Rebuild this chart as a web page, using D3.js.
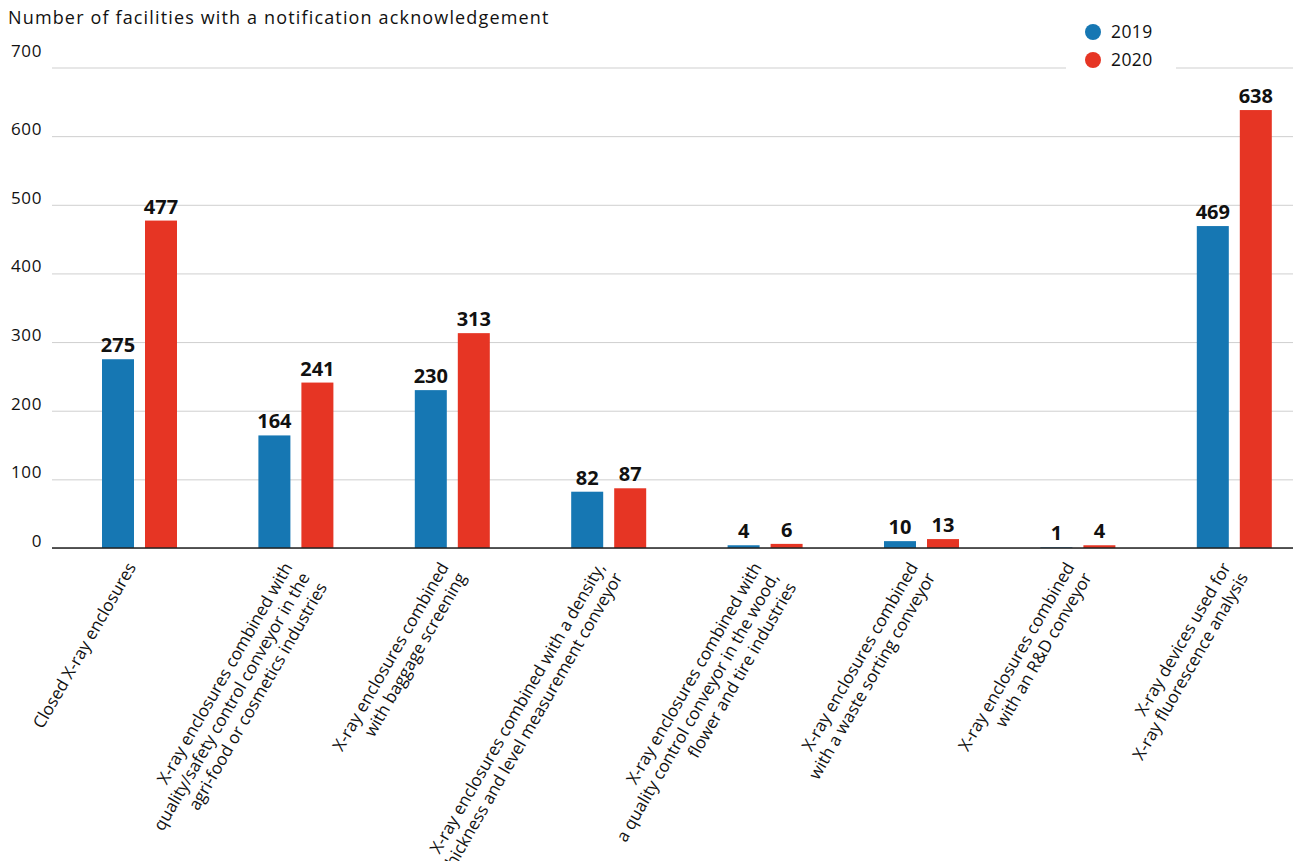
<!DOCTYPE html>
<html>
<head>
<meta charset="utf-8">
<script src="https://cdn.jsdelivr.net/npm/d3@7"></script>
<style>
  html, body { margin: 0; padding: 0; background: #fff; }
  svg { display: block; font-family: "Open Sans", "Noto Sans", sans-serif; }
</style>
</head>
<body>
<svg id="chart" width="1293" height="861"></svg>
<script>
// Facility categories (line breaks mark wrapped axis labels)
const categories = [
  "Closed X-ray enclosures",
  "X-ray enclosures combined with\nquality/safety control conveyor in the\nagri-food or cosmetics industries",
  "X-ray enclosures combined\nwith baggage screening",
  "X-ray enclosures combined with a density,\nthickness and level measurement conveyor",
  "X-ray enclosures combined with\na quality control conveyor in the wood,\nflower and tire industries",
  "X-ray enclosures combined\nwith a waste sorting conveyor",
  "X-ray enclosures combined\nwith an R&D conveyor",
  "X-ray devices used for\nX-ray fluorescence analysis"
];
const years = ["2019", "2020"];
const values2019 = [275, 164, 230, 82, 4, 10, 1, 469];
const values2020 = [477, 241, 313, 87, 6, 13, 4, 638];
const yTicks = [0, 100, 200, 300, 400, 500, 600, 700];
const yTitle = "Number of facilities with a notification acknowledgement";

const FONT = "'Open Sans', 'Noto Sans', sans-serif";
const colors = { "2019": "#1677b3", "2020": "#e63524" };
const seriesByYear = { "2019": values2019, "2020": values2020 };

const svg = d3.select("#chart");
const W = 1293;
const plotLeft = 52;

const y = d3.scaleLinear().domain([0, 700]).range([548, 67.5]);
const x0 = d3.scaleBand().domain(categories).range([61.3, 1312.5]).padding(0);
const x1 = d3.scaleBand().domain(years).range([-37.5, 37.5]).paddingInner(11 / 43).paddingOuter(0);

// Gridlines and y tick labels
const yAxis = d3.axisLeft(y)
  .tickValues(yTicks)
  .tickSize(-(W - plotLeft))
  .tickPadding(10)
  .tickFormat(d3.format("d"));

const gy = svg.append("g")
  .attr("transform", `translate(${plotLeft},0)`)
  .call(yAxis)
  .attr("font-family", FONT);
gy.select(".domain").remove();
gy.selectAll(".tick line").attr("stroke", "#cfcfcf").attr("stroke-width", 1);
gy.selectAll(".tick text")
  .attr("fill", "#111")
  .attr("font-size", 17)
  .attr("letter-spacing", 0.6)
  .attr("dy", null)
  .attr("y", d => d === 700 ? -11 : -1.5);

// Title above the axis
svg.append("text")
  .attr("x", 8)
  .attr("y", 24)
  .attr("font-size", 18)
  .attr("letter-spacing", 1.15)
  .attr("fill", "#111")
  .text(yTitle);

// Bars
const groups = svg.append("g").selectAll("g")
  .data(categories)
  .join("g")
  .attr("transform", d => `translate(${x0(d) + x0.bandwidth() / 2},0)`);

groups.selectAll("rect")
  .data((d, i) => years.map(yr => ({ yr, v: seriesByYear[yr][i] })))
  .join("rect")
  .attr("x", d => x1(d.yr))
  .attr("width", x1.bandwidth())
  .attr("y", d => y(d.v))
  .attr("height", d => y(0) - y(d.v))
  .attr("fill", d => colors[d.yr]);

// Value labels
groups.selectAll("text.val")
  .data((d, i) => years.map(yr => ({ yr, v: seriesByYear[yr][i] })))
  .join("text")
  .attr("class", "val")
  .attr("x", d => x1(d.yr) + x1.bandwidth() / 2)
  .attr("y", d => y(d.v) - 7)
  .attr("text-anchor", "middle")
  .attr("font-family", FONT)
  .attr("font-size", 20)
  .attr("font-weight", 700)
  .attr("fill", "#111")
  .text(d => d.v);

// Baseline
svg.append("line")
  .attr("x1", plotLeft).attr("x2", W)
  .attr("y1", y(0)).attr("y2", y(0))
  .attr("stroke", "#222").attr("stroke-width", 1.6);

// Category labels, rotated and right-aligned
const xAxis = d3.axisBottom(x0).tickSize(0).tickFormat("");
const gx = svg.append("g")
  .attr("transform", `translate(0,${y(0)})`)
  .call(xAxis)
  .attr("font-family", FONT);
gx.select(".domain").remove();
gx.selectAll(".tick").each(function (d) {
  const lines = d.split("\n");
  const t = d3.select(this).select("text")
    .attr("y", null).attr("dy", null)
    .attr("text-anchor", "end")
    .attr("font-size", 17)
    .attr("fill", "#111")
    .attr("transform", "translate(-3,19) rotate(-60)");
  t.selectAll("tspan")
    .data(lines)
    .join("tspan")
    .attr("x", 0)
    .attr("y", (l, i) => i * 20)
    .text(l => l);
});

// Legend
const legend = svg.append("g").attr("transform", "translate(1066,0)");
legend.append("rect")
  .attr("x", 0).attr("y", 14).attr("width", 110).attr("height", 62)
  .attr("fill", "#fff");
years.forEach((yr, i) => {
  legend.append("circle")
    .attr("cx", 27).attr("cy", 32 + i * 28).attr("r", 8)
    .attr("fill", colors[yr]);
  legend.append("text")
    .attr("x", 45).attr("y", 38 + i * 28)
    .attr("font-size", 17.5)
    .attr("letter-spacing", 0.4)
    .attr("fill", "#111")
    .text(yr);
});
</script>
</body>
</html>
